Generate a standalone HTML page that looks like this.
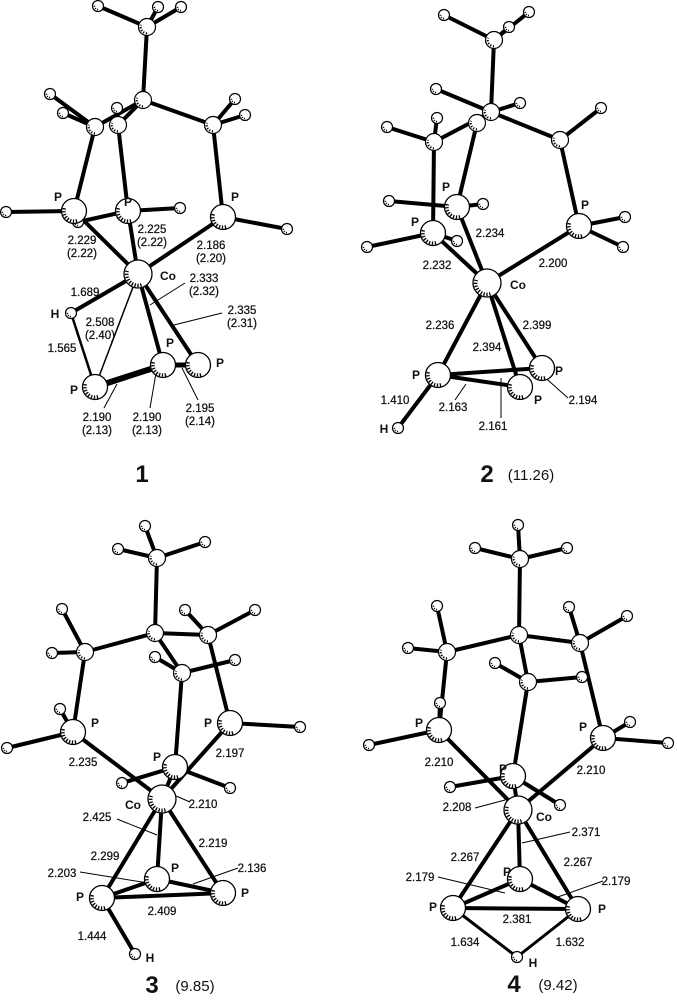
<!DOCTYPE html>
<html><head><meta charset="utf-8"><style>
html,body{margin:0;padding:0;background:#fff;}
svg{display:block;}
text{font-family:"Liberation Sans",sans-serif;fill:#111;}
.n{font-size:11.5px;text-anchor:middle;stroke:#111;stroke-width:0.25px;}
.a{font-size:12px;font-weight:bold;text-anchor:middle;}
.c{font-size:24px;font-weight:bold;text-anchor:middle;}
.p{font-size:15px;text-anchor:middle;}
.b line{stroke:#000;stroke-width:4;stroke-linecap:round;}
.t line{stroke:#000;stroke-width:1;}
</style></head><body>
<svg width="677" height="1000" viewBox="0 0 677 1000" xmlns="http://www.w3.org/2000/svg">
<defs>
<g id="H"><circle r="5.5" fill="#fff" stroke="#000" stroke-width="1.2"/><path d="M0,3.5 A3.5,3.5 0 0 1 -3.3,-1.2" fill="none" stroke="#000" stroke-width="1.6" stroke-dasharray="1 1.3"/></g>
<g id="C"><circle r="8.5" fill="#fff" stroke="#000" stroke-width="1.2"/><path d="M0,6.3 A6.3,6.3 0 0 1 -5.9,-2.1" fill="none" stroke="#000" stroke-width="2.2" stroke-dasharray="1.2 1.6"/></g>
<g id="P"><circle r="12.5" fill="#fff" stroke="#000" stroke-width="1.3"/><path d="M3,9.6 A10,10 0 0 1 -9.4,-3.4" fill="none" stroke="#000" stroke-width="3.4" stroke-dasharray="1.3 1.6"/></g>
<g id="Co"><circle r="14" fill="#fff" stroke="#000" stroke-width="1.3"/><path d="M3.5,10.8 A11.3,11.3 0 0 1 -10.6,-3.9" fill="none" stroke="#000" stroke-width="3.6" stroke-dasharray="1.3 1.6"/></g>
</defs>

<!-- ===== Molecule 1 ===== -->
<g class="b">
<line x1="147" y1="27" x2="98" y2="6"/><line x1="147" y1="27" x2="158" y2="7"/><line x1="147" y1="27" x2="181" y2="7"/>
<line x1="147" y1="27" x2="143" y2="100"/>
<line x1="143" y1="100" x2="95" y2="127"/><line x1="143" y1="100" x2="118" y2="125"/><line x1="143" y1="100" x2="213" y2="125"/>
<line x1="95" y1="127" x2="50" y2="94"/><line x1="95" y1="127" x2="63" y2="113"/><line x1="118" y1="125" x2="117" y2="108"/>
<line x1="213" y1="125" x2="235" y2="99"/><line x1="213" y1="125" x2="245" y2="115"/>
<line x1="95" y1="127" x2="74" y2="211"/><line x1="118" y1="125" x2="128" y2="211"/><line x1="213" y1="125" x2="223" y2="217"/>
<line x1="74" y1="211" x2="6" y2="212"/><line x1="78" y1="222" x2="128" y2="211"/><line x1="128" y1="211" x2="180" y2="208"/><line x1="223" y1="217" x2="287" y2="229"/>
<line x1="138" y1="274" x2="74" y2="211"/><line x1="138" y1="274" x2="128" y2="211"/><line x1="138" y1="274" x2="223" y2="217"/>
<line x1="138" y1="274" x2="71" y2="313"/><line x1="138" y1="274" x2="163" y2="365"/><line x1="138" y1="274" x2="198" y2="365"/>
<line x1="71" y1="313" x2="95" y2="387" style="stroke-width:2.5"/>
<line x1="95" y1="387" x2="163" y2="365" style="stroke-width:6"/><line x1="163" y1="365" x2="198" y2="365" style="stroke-width:5"/>
</g>
<g class="t">
<line x1="138" y1="274" x2="95" y2="387" style="stroke-width:1.5"/>
<line x1="150" y1="305" x2="185" y2="283"/><line x1="174" y1="325" x2="222" y2="313"/>
<line x1="117" y1="384" x2="104" y2="408"/><line x1="156" y1="373" x2="150" y2="408"/><line x1="182" y1="368" x2="198" y2="400"/>
</g>
<use href="#H" x="98" y="6"/><use href="#H" x="158" y="7"/><use href="#H" x="181" y="7"/><use href="#C" x="147" y="27"/>
<use href="#H" x="50" y="94"/><use href="#H" x="63" y="113"/><use href="#H" x="117" y="108"/><use href="#H" x="235" y="99"/><use href="#H" x="245" y="115"/>
<use href="#C" x="143" y="100"/><use href="#C" x="95" y="127"/><use href="#C" x="118" y="125"/><use href="#C" x="213" y="125"/>
<use href="#H" x="6" y="212"/><use href="#H" x="180" y="208"/><use href="#H" x="287" y="229"/><use href="#H" x="78" y="222"/>
<use href="#P" x="74" y="211"/><use href="#P" x="128" y="211"/><use href="#P" x="223" y="217"/>
<use href="#Co" x="138" y="274"/><use href="#H" x="71" y="313"/>
<use href="#P" x="95" y="387"/><use href="#P" x="163" y="365"/><use href="#P" x="198" y="365"/>
<text class="a" x="58" y="201">P</text><text class="a" x="128" y="206">P</text><text class="a" x="235" y="201">P</text>
<text class="n" x="82" y="244">2.229</text><text class="n" x="82" y="257">(2.22)</text>
<text class="n" x="152" y="233">2.225</text><text class="n" x="152" y="246">(2.22)</text>
<text class="n" x="211" y="249">2.186</text><text class="n" x="211" y="262">(2.20)</text>
<text class="a" x="168" y="280">Co</text>
<text class="n" x="204" y="282">2.333</text><text class="n" x="204" y="295">(2.32)</text>
<text class="n" x="242" y="314">2.335</text><text class="n" x="242" y="327">(2.31)</text>
<text class="n" x="85" y="296">1.689</text><text class="a" x="55" y="318">H</text>
<text class="n" x="100" y="326">2.508</text><text class="n" x="100" y="339">(2.40)</text>
<text class="n" x="62" y="352">1.565</text>
<text class="a" x="74" y="394">P</text><text class="a" x="170" y="347">P</text><text class="a" x="220" y="367">P</text>
<text class="n" x="97" y="421">2.190</text><text class="n" x="97" y="434">(2.13)</text>
<text class="n" x="147" y="421">2.190</text><text class="n" x="147" y="434">(2.13)</text>
<text class="n" x="200" y="412">2.195</text><text class="n" x="200" y="425">(2.14)</text>
<text class="c" x="142" y="482">1</text>

<!-- ===== Molecule 2 ===== -->
<g class="b">
<line x1="494" y1="40" x2="444" y2="15"/><line x1="494" y1="40" x2="529" y2="12"/><line x1="494" y1="40" x2="509" y2="27"/>
<line x1="494" y1="40" x2="491" y2="112"/>
<line x1="491" y1="112" x2="436" y2="89"/><line x1="491" y1="112" x2="520" y2="103"/><line x1="491" y1="112" x2="560" y2="140"/><line x1="491" y1="112" x2="434" y2="142"/>
<line x1="434" y1="142" x2="387" y2="127"/><line x1="434" y1="142" x2="437" y2="118"/><line x1="560" y1="140" x2="601" y2="108"/>
<line x1="477" y1="123" x2="457" y2="207"/><line x1="434" y1="142" x2="433" y2="233"/><line x1="560" y1="140" x2="579" y2="226"/>
<line x1="389" y1="201" x2="457" y2="207"/><line x1="457" y1="207" x2="483" y2="204"/>
<line x1="433" y1="233" x2="367" y2="247"/><line x1="433" y1="233" x2="457" y2="241"/>
<line x1="579" y1="226" x2="625" y2="217"/><line x1="579" y1="226" x2="623" y2="247"/>
<line x1="487" y1="283" x2="457" y2="207"/><line x1="487" y1="283" x2="433" y2="233"/><line x1="487" y1="283" x2="579" y2="226"/>
<line x1="487" y1="283" x2="438" y2="375"/><line x1="487" y1="283" x2="520" y2="387"/><line x1="487" y1="283" x2="542" y2="368"/>
<line x1="438" y1="375" x2="542" y2="368"/><line x1="438" y1="375" x2="520" y2="387"/><line x1="438" y1="375" x2="398" y2="428"/>
</g>
<g class="t">
<line x1="466" y1="384" x2="455" y2="400"/><line x1="501" y1="378" x2="501" y2="418"/><line x1="540" y1="373" x2="568" y2="398"/>
</g>
<use href="#H" x="444" y="15"/><use href="#H" x="529" y="12"/><use href="#H" x="509" y="27"/><use href="#C" x="494" y="40"/>
<use href="#H" x="436" y="89"/><use href="#H" x="520" y="103"/><use href="#H" x="601" y="108"/><use href="#H" x="387" y="127"/><use href="#H" x="437" y="118"/>
<use href="#C" x="477" y="123"/><use href="#C" x="491" y="112"/><use href="#C" x="434" y="142"/><use href="#C" x="560" y="140"/>
<use href="#H" x="389" y="201"/><use href="#H" x="483" y="204"/><use href="#H" x="367" y="247"/><use href="#H" x="457" y="241"/><use href="#H" x="625" y="217"/><use href="#H" x="623" y="247"/>
<use href="#P" x="457" y="207"/><use href="#P" x="433" y="233"/><use href="#P" x="579" y="226"/>
<use href="#Co" x="487" y="283"/>
<use href="#P" x="542" y="368"/><use href="#P" x="520" y="387"/><use href="#P" x="438" y="375"/><use href="#H" x="398" y="428"/>
<text class="a" x="446" y="191">P</text><text class="a" x="415" y="226">P</text><text class="a" x="585" y="209">P</text>
<text class="n" x="490" y="237">2.234</text><text class="n" x="437" y="269">2.232</text><text class="n" x="553" y="267">2.200</text>
<text class="a" x="518" y="289">Co</text>
<text class="n" x="440" y="329">2.236</text><text class="n" x="537" y="329">2.399</text><text class="n" x="487" y="351">2.394</text>
<text class="a" x="416" y="379">P</text><text class="a" x="559" y="375">P</text><text class="a" x="538" y="404">P</text>
<text class="n" x="395" y="404">1.410</text><text class="n" x="453" y="411">2.163</text><text class="n" x="493" y="430">2.161</text><text class="n" x="583" y="404">2.194</text>
<text class="a" x="384" y="433">H</text>
<text class="c" x="487" y="482">2</text><text class="p" x="531" y="480">(11.26)</text>

<!-- ===== Molecule 3 ===== -->
<g class="b">
<line x1="157" y1="558" x2="145" y2="526"/><line x1="157" y1="558" x2="118" y2="549"/><line x1="157" y1="558" x2="205" y2="542"/>
<line x1="157" y1="558" x2="155" y2="633"/>
<line x1="155" y1="633" x2="85" y2="652"/><line x1="155" y1="633" x2="208" y2="635"/><line x1="155" y1="633" x2="182" y2="673"/>
<line x1="85" y1="652" x2="62" y2="609"/><line x1="85" y1="652" x2="52" y2="653"/>
<line x1="208" y1="635" x2="185" y2="610"/><line x1="208" y1="635" x2="255" y2="610"/>
<line x1="182" y1="673" x2="155" y2="657"/><line x1="182" y1="673" x2="235" y2="660"/>
<line x1="85" y1="652" x2="73" y2="732"/><line x1="208" y1="635" x2="230" y2="723"/><line x1="182" y1="673" x2="175" y2="767"/>
<line x1="73" y1="732" x2="60" y2="709"/><line x1="73" y1="732" x2="7" y2="748"/><line x1="230" y1="723" x2="300" y2="727"/>
<line x1="175" y1="767" x2="122" y2="783"/><line x1="175" y1="767" x2="230" y2="788"/>
<line x1="162" y1="799" x2="73" y2="732"/><line x1="162" y1="799" x2="230" y2="723"/><line x1="162" y1="799" x2="175" y2="767"/>
<line x1="162" y1="799" x2="157" y2="879"/><line x1="162" y1="799" x2="102" y2="898"/><line x1="162" y1="799" x2="223" y2="893"/>
<line x1="102" y1="898" x2="157" y2="879"/><line x1="102" y1="898" x2="223" y2="893"/><line x1="157" y1="879" x2="223" y2="893"/>
<line x1="102" y1="898" x2="135" y2="954"/>
</g>
<g class="t">
<line x1="117" y1="819" x2="157" y2="835"/><line x1="176" y1="796" x2="190" y2="802"/>
<line x1="80" y1="872" x2="148" y2="883"/><line x1="238" y1="868" x2="193" y2="884"/>
</g>
<use href="#H" x="145" y="526"/><use href="#H" x="118" y="549"/><use href="#H" x="205" y="542"/><use href="#C" x="157" y="558"/>
<use href="#H" x="62" y="609"/><use href="#H" x="52" y="653"/><use href="#H" x="185" y="610"/><use href="#H" x="255" y="610"/><use href="#H" x="155" y="657"/><use href="#H" x="235" y="660"/>
<use href="#C" x="155" y="633"/><use href="#C" x="85" y="652"/><use href="#C" x="208" y="635"/><use href="#C" x="182" y="673"/>
<use href="#H" x="60" y="709"/><use href="#H" x="7" y="748"/><use href="#H" x="300" y="727"/><use href="#H" x="122" y="783"/><use href="#H" x="230" y="788"/>
<use href="#P" x="73" y="732"/><use href="#P" x="230" y="723"/>
<use href="#Co" x="162" y="799"/><use href="#P" x="175" y="767"/>
<use href="#P" x="157" y="879"/><use href="#P" x="102" y="898"/><use href="#P" x="223" y="893"/><use href="#H" x="135" y="954"/>
<text class="a" x="95" y="727">P</text><text class="a" x="208" y="727">P</text><text class="a" x="157" y="761">P</text>
<text class="n" x="83" y="766">2.235</text><text class="n" x="230" y="757">2.197</text>
<text class="a" x="133" y="809">Co</text><text class="n" x="203" y="808">2.210</text>
<text class="n" x="97" y="821">2.425</text><text class="n" x="213" y="847">2.219</text><text class="n" x="105" y="860">2.299</text>
<text class="n" x="62" y="877">2.203</text><text class="a" x="175" y="872">P</text><text class="n" x="252" y="872">2.136</text>
<text class="a" x="80" y="901">P</text><text class="a" x="245" y="897">P</text>
<text class="n" x="162" y="915">2.409</text><text class="n" x="92" y="940">1.444</text><text class="a" x="150" y="962">H</text>
<text class="c" x="152" y="993">3</text><text class="p" x="195" y="991">(9.85)</text>

<!-- ===== Molecule 4 ===== -->
<g class="b">
<line x1="520" y1="559" x2="518" y2="525"/><line x1="520" y1="559" x2="475" y2="548"/><line x1="520" y1="559" x2="567" y2="548"/>
<line x1="520" y1="559" x2="519" y2="635"/>
<line x1="519" y1="635" x2="447" y2="652"/><line x1="519" y1="635" x2="580" y2="643"/><line x1="519" y1="635" x2="528" y2="682"/>
<line x1="447" y1="652" x2="437" y2="606"/><line x1="447" y1="652" x2="408" y2="648"/>
<line x1="580" y1="643" x2="569" y2="607"/><line x1="580" y1="643" x2="627" y2="616"/>
<line x1="528" y1="682" x2="495" y2="663"/><line x1="528" y1="682" x2="582" y2="677"/>
<line x1="447" y1="652" x2="439" y2="730"/><line x1="580" y1="643" x2="603" y2="738"/><line x1="528" y1="682" x2="513" y2="776"/>
<line x1="439" y1="730" x2="440" y2="703"/><line x1="439" y1="730" x2="369" y2="745"/>
<line x1="603" y1="738" x2="630" y2="722"/><line x1="603" y1="738" x2="668" y2="743"/>
<line x1="513" y1="776" x2="450" y2="787"/><line x1="513" y1="776" x2="560" y2="805"/>
<line x1="518" y1="810" x2="439" y2="730"/><line x1="518" y1="810" x2="603" y2="738"/><line x1="518" y1="810" x2="513" y2="776"/>
<line x1="518" y1="810" x2="520" y2="879"/><line x1="518" y1="810" x2="453" y2="908"/><line x1="518" y1="810" x2="578" y2="909"/>
<line x1="453" y1="908" x2="520" y2="879"/><line x1="453" y1="908" x2="578" y2="909"/><line x1="578" y1="909" x2="520" y2="879"/>
<line x1="453" y1="908" x2="517" y2="957" style="stroke-width:3"/><line x1="578" y1="909" x2="517" y2="957" style="stroke-width:3"/>
</g>
<g class="t">
<line x1="475" y1="808" x2="505" y2="800"/><line x1="522" y1="843" x2="570" y2="832"/>
<line x1="438" y1="877" x2="505" y2="893"/><line x1="603" y1="881" x2="555" y2="898"/>
</g>
<use href="#H" x="518" y="525"/><use href="#H" x="475" y="548"/><use href="#H" x="567" y="548"/><use href="#C" x="520" y="559"/>
<use href="#H" x="437" y="606"/><use href="#H" x="408" y="648"/><use href="#H" x="569" y="607"/><use href="#H" x="627" y="616"/><use href="#H" x="495" y="663"/><use href="#H" x="582" y="677"/>
<use href="#C" x="519" y="635"/><use href="#C" x="447" y="652"/><use href="#C" x="580" y="643"/><use href="#C" x="528" y="682"/>
<use href="#H" x="440" y="703"/><use href="#H" x="369" y="745"/><use href="#H" x="630" y="722"/><use href="#H" x="668" y="743"/><use href="#H" x="450" y="787"/><use href="#H" x="560" y="805"/>
<use href="#P" x="439" y="730"/><use href="#P" x="603" y="738"/>
<use href="#Co" x="518" y="810"/><use href="#P" x="513" y="776"/>
<use href="#P" x="520" y="879"/><use href="#P" x="453" y="908"/><use href="#P" x="578" y="909"/><use href="#H" x="517" y="957"/>
<text class="a" x="419" y="727">P</text><text class="a" x="583" y="731">P</text><text class="a" x="503" y="773">P</text>
<text class="n" x="439" y="766">2.210</text><text class="n" x="591" y="774">2.210</text>
<text class="n" x="457" y="811">2.208</text><text class="a" x="544" y="821">Co</text>
<text class="n" x="586" y="836">2.371</text><text class="n" x="465" y="861">2.267</text><text class="n" x="578" y="866">2.267</text>
<text class="n" x="420" y="881">2.179</text><text class="a" x="507" y="876">P</text><text class="n" x="616" y="885">2.179</text>
<text class="a" x="433" y="911">P</text><text class="a" x="602" y="913">P</text>
<text class="n" x="517" y="923">2.381</text><text class="n" x="465" y="946">1.634</text><text class="n" x="570" y="946">1.632</text>
<text class="a" x="533" y="967">H</text>
<text class="c" x="514" y="992">4</text><text class="p" x="558" y="990">(9.42)</text>
</svg>
</body></html>
